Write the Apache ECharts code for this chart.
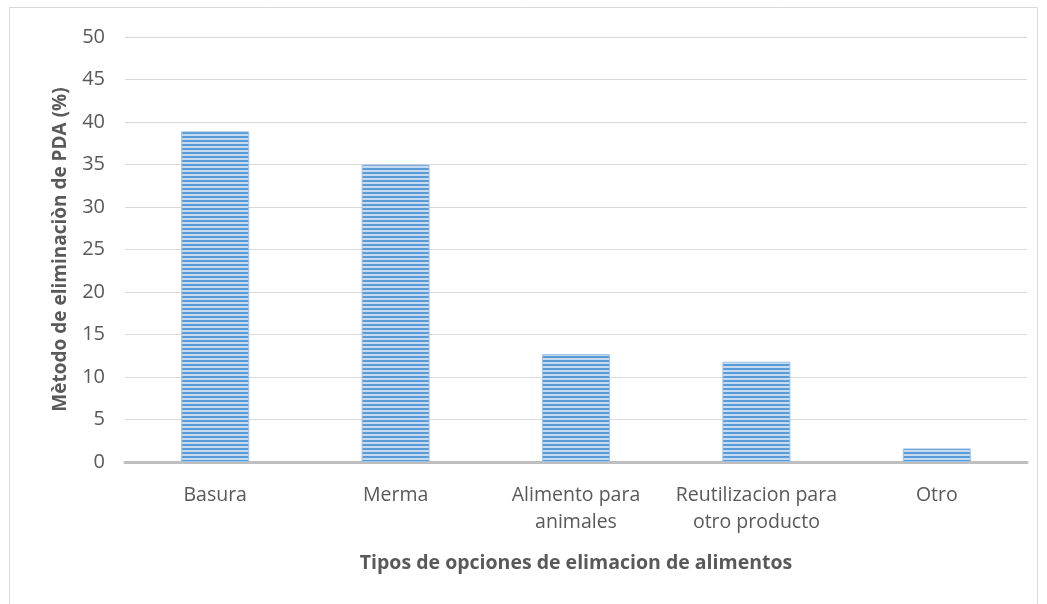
<!DOCTYPE html>
<html>
<head>
<meta charset="utf-8">
<script src="https://cdn.jsdelivr.net/npm/echarts@6/dist/echarts.min.js"></script>
<style>
  html, body { margin: 0; padding: 0; background: #fff; }
  #chart { width: 1047px; height: 604px; }
</style>
</head>
<body>
<div id="chart"></div>
<script>
// Disposal options and the share of each (%)
const categories = ['Basura', 'Merma', 'Alimento para\nanimales', 'Reutilizacion para\notro producto', 'Otro'];
const shares = [38.9, 35.0, 12.7, 11.8, 1.6];
const yTicks = [0, 5, 10, 15, 20, 25, 30, 35, 40, 45, 50];

const xTitle = 'Tipos de opciones de elimacion de alimentos';
const yTitle = 'Mètodo de eliminaciòn de PDA (%)';

// Horizontal striped fill for the bars
function stripeFill() {
  const c = document.createElement('canvas');
  c.width = 4; c.height = 4;
  const g = c.getContext('2d');
  g.fillStyle = '#c4dbf1';
  g.fillRect(0, 0, 4, 4);
  g.fillStyle = '#5b9bd5';
  g.fillRect(0, 0, 4, 2);
  return c;
}

const font = '"Open Sans", "Noto Sans", sans-serif';
const chart = echarts.init(document.getElementById('chart'), null, { renderer: 'canvas' });

chart.setOption({
  backgroundColor: '#ffffff',
  animation: false,
  graphic: [{
    type: 'rect',
    shape: { x: 9.5, y: 7.5, width: 1028, height: 620 },
    style: { fill: 'none', stroke: '#d9d9d9', lineWidth: 1 },
    silent: true
  }],
  grid: { left: 125, right: 20, top: 37, bottom: 142 },
  xAxis: {
    type: 'category',
    data: categories,
    axisLine: { show: true, lineStyle: { color: '#bfbfbf', width: 3 } },
    axisTick: { show: false },
    axisLabel: {
      color: '#595959', fontFamily: font, fontSize: 19.5,
      lineHeight: 27, margin: 20, interval: 0
    },
    name: xTitle,
    nameLocation: 'middle',
    nameGap: 91,
    nameTextStyle: { color: '#595959', fontFamily: font, fontSize: 19.5, fontWeight: 'bold' }
  },
  yAxis: {
    type: 'value',
    min: yTicks[0],
    max: yTicks[yTicks.length - 1],
    interval: 5,
    axisLine: { show: false },
    axisTick: { show: false },
    axisLabel: { color: '#595959', fontFamily: font, fontSize: 20, margin: 20 },
    splitLine: { lineStyle: { color: '#d9d9d9', width: 1 } },
    name: yTitle,
    nameLocation: 'middle',
    nameGap: 55,
    nameTextStyle: { color: '#595959', fontFamily: font, fontSize: 19, fontWeight: 'bold' }
  },
  series: [{
    type: 'bar',
    data: shares,
    barWidth: 68,
    itemStyle: {
      color: { image: stripeFill(), repeat: 'repeat' },
      borderColor: '#9dc3e6',
      borderWidth: 1
    }
  }]
});
</script>
</body>
</html>
